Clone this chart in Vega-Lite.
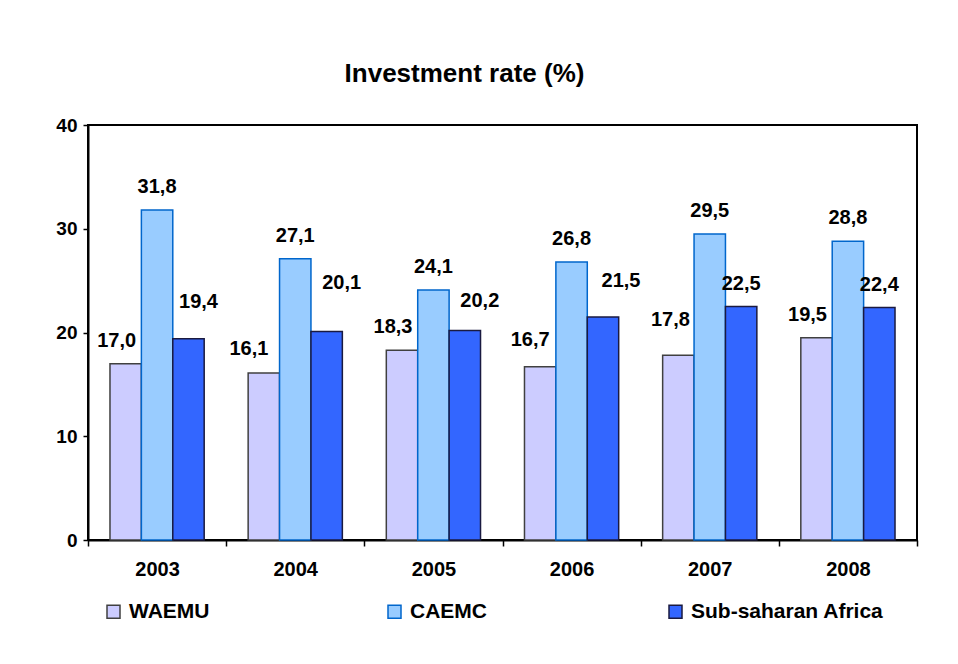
{
  "$schema": "https://vega.github.io/schema/vega-lite/v6.json",
  "width": 829,
  "height": 415,
  "autosize": {"type": "none"},
  "padding": {"left": 88, "top": 125, "right": 41, "bottom": 124},
  "background": "white",
  "title": {"text": "Investment rate (%)", "font": "Liberation Sans", "fontSize": 26, "fontWeight": "bold", "color": "black", "anchor": "middle", "dx": -38, "offset": 29},
  "config": {
    "locale": {"number": {"decimal": ",", "thousands": ".", "grouping": [3], "currency": ["", ""]}},
    "view": {"stroke": "black", "strokeWidth": 2},
    "legend": {
      "orient": "none", "legendX": 15, "legendY": 476, "direction": "horizontal", "columns": 3, "gridAlign": "all",
      "columnPadding": 62, "symbolType": "square", "symbolSize": 169, "symbolStrokeWidth": 1.5, "symbolOpacity": 1,
      "labelFont": "Liberation Sans", "labelFontSize": 21, "labelFontWeight": "bold", "labelColor": "black",
      "labelOffset": 5, "labelLimit": 0, "title": null, "padding": 0
    }
  },
  "data": {"values": [
    {"year": "2003", "series": "WAEMU", "value": 17.0},
    {"year": "2003", "series": "CAEMC", "value": 31.8},
    {"year": "2003", "series": "Sub-saharan Africa", "value": 19.4},
    {"year": "2004", "series": "WAEMU", "value": 16.1},
    {"year": "2004", "series": "CAEMC", "value": 27.1},
    {"year": "2004", "series": "Sub-saharan Africa", "value": 20.1},
    {"year": "2005", "series": "WAEMU", "value": 18.3},
    {"year": "2005", "series": "CAEMC", "value": 24.1},
    {"year": "2005", "series": "Sub-saharan Africa", "value": 20.2},
    {"year": "2006", "series": "WAEMU", "value": 16.7},
    {"year": "2006", "series": "CAEMC", "value": 26.8},
    {"year": "2006", "series": "Sub-saharan Africa", "value": 21.5},
    {"year": "2007", "series": "WAEMU", "value": 17.8},
    {"year": "2007", "series": "CAEMC", "value": 29.5},
    {"year": "2007", "series": "Sub-saharan Africa", "value": 22.5},
    {"year": "2008", "series": "WAEMU", "value": 19.5},
    {"year": "2008", "series": "CAEMC", "value": 28.8},
    {"year": "2008", "series": "Sub-saharan Africa", "value": 22.4}
  ]},
  "encoding": {
    "x": {
      "field": "year", "type": "nominal",
      "scale": {"paddingInner": 0, "paddingOuter": 0},
      "axis": {
        "title": null, "labelAngle": 0, "labelFont": "Liberation Sans", "labelFontSize": 20, "labelFontWeight": "bold",
        "labelColor": "black", "domainColor": "black", "domainWidth": 2, "tickColor": "black", "tickSize": 6,
        "tickWidth": 1.5, "tickBand": "extent", "labelPadding": 13, "grid": false
      }
    },
    "xOffset": {
      "field": "series", "type": "nominal", "sort": ["WAEMU", "CAEMC", "Sub-saharan Africa"],
      "scale": {"paddingInner": 0, "paddingOuter": 0.7}
    },
    "y": {
      "field": "value", "type": "quantitative",
      "scale": {"domain": [0, 40], "nice": false},
      "axis": {
        "title": null, "values": [0, 10, 20, 30, 40], "labelFont": "Liberation Sans", "labelFontSize": 19,
        "labelFontWeight": "bold", "labelColor": "black", "domainColor": "black", "domainWidth": 2,
        "tickColor": "black", "tickSize": 5, "tickWidth": 1.5, "labelPadding": 6, "grid": false
      }
    }
  },
  "layer": [
    {
      "mark": {"type": "bar", "strokeWidth": 1.5, "fillOpacity": 1},
      "encoding": {
        "fill": {"field": "series", "type": "nominal",
          "scale": {"domain": ["WAEMU", "CAEMC", "Sub-saharan Africa"], "range": ["#CCCCFF", "#99CCFF", "#3366FF"]}},
        "stroke": {"field": "series", "type": "nominal",
          "scale": {"domain": ["WAEMU", "CAEMC", "Sub-saharan Africa"], "range": ["#404040", "#0066CC", "#1A1A40"]}}
      }
    },
    {
      "transform": [{"filter": "datum.series == 'CAEMC' || (datum.series == 'Sub-saharan Africa' && (datum.year == '2007' || datum.year == '2008'))"}],
      "mark": {"type": "text", "font": "Liberation Sans", "fontSize": 20, "fontWeight": "bold", "color": "black", "baseline": "middle", "align": "center", "dx": 0, "dy": -23},
      "encoding": {"text": {"field": "value", "type": "quantitative", "format": ".1f"}}
    },
    {
      "transform": [{"filter": "datum.series == 'WAEMU' && (datum.year == '2003' || datum.year == '2005' || datum.year == '2008')"}],
      "mark": {"type": "text", "font": "Liberation Sans", "fontSize": 20, "fontWeight": "bold", "color": "black", "baseline": "middle", "align": "center", "dx": -9, "dy": -23},
      "encoding": {"text": {"field": "value", "type": "quantitative", "format": ".1f"}}
    },
    {
      "transform": [{"filter": "datum.series == 'WAEMU' && datum.year == '2004'"}],
      "mark": {"type": "text", "font": "Liberation Sans", "fontSize": 20, "fontWeight": "bold", "color": "black", "baseline": "middle", "align": "center", "dx": -15, "dy": -24},
      "encoding": {"text": {"field": "value", "type": "quantitative", "format": ".1f"}}
    },
    {
      "transform": [{"filter": "datum.series == 'WAEMU' && datum.year == '2006'"}],
      "mark": {"type": "text", "font": "Liberation Sans", "fontSize": 20, "fontWeight": "bold", "color": "black", "baseline": "middle", "align": "center", "dx": -10, "dy": -27},
      "encoding": {"text": {"field": "value", "type": "quantitative", "format": ".1f"}}
    },
    {
      "transform": [{"filter": "datum.series == 'WAEMU' && datum.year == '2007'"}],
      "mark": {"type": "text", "font": "Liberation Sans", "fontSize": 20, "fontWeight": "bold", "color": "black", "baseline": "middle", "align": "center", "dx": -8, "dy": -35},
      "encoding": {"text": {"field": "value", "type": "quantitative", "format": ".1f"}}
    },
    {
      "transform": [{"filter": "datum.series == 'Sub-saharan Africa' && datum.year == '2003'"}],
      "mark": {"type": "text", "font": "Liberation Sans", "fontSize": 20, "fontWeight": "bold", "color": "black", "baseline": "middle", "align": "center", "dx": 10, "dy": -37},
      "encoding": {"text": {"field": "value", "type": "quantitative", "format": ".1f"}}
    },
    {
      "transform": [{"filter": "datum.series == 'Sub-saharan Africa' && datum.year == '2004'"}],
      "mark": {"type": "text", "font": "Liberation Sans", "fontSize": 20, "fontWeight": "bold", "color": "black", "baseline": "middle", "align": "center", "dx": 15, "dy": -48},
      "encoding": {"text": {"field": "value", "type": "quantitative", "format": ".1f"}}
    },
    {
      "transform": [{"filter": "datum.series == 'Sub-saharan Africa' && datum.year == '2005'"}],
      "mark": {"type": "text", "font": "Liberation Sans", "fontSize": 20, "fontWeight": "bold", "color": "black", "baseline": "middle", "align": "center", "dx": 15, "dy": -29},
      "encoding": {"text": {"field": "value", "type": "quantitative", "format": ".1f"}}
    },
    {
      "transform": [{"filter": "datum.series == 'Sub-saharan Africa' && datum.year == '2006'"}],
      "mark": {"type": "text", "font": "Liberation Sans", "fontSize": 20, "fontWeight": "bold", "color": "black", "baseline": "middle", "align": "center", "dx": 18, "dy": -36},
      "encoding": {"text": {"field": "value", "type": "quantitative", "format": ".1f"}}
    }
  ]
}
